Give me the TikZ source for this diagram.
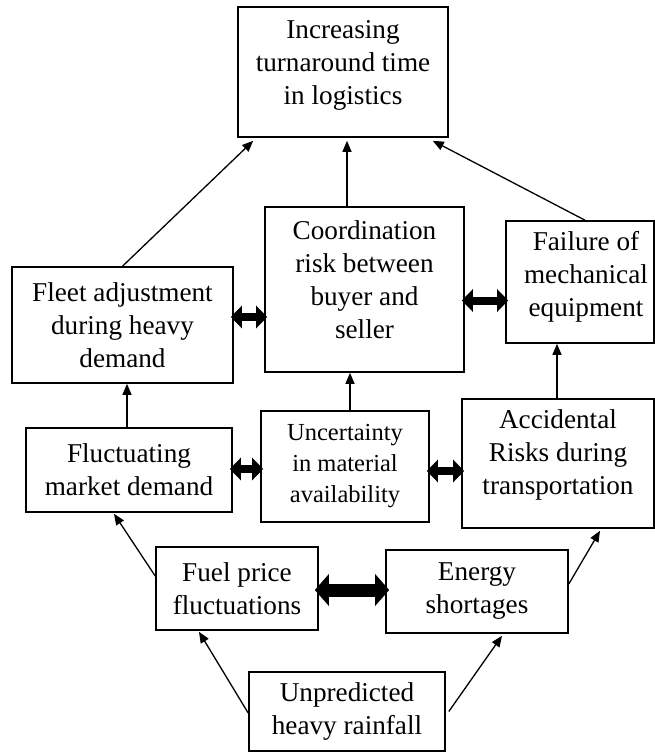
\documentclass[tikz,border=0pt]{standalone}
\usepackage{fontspec}
\setmainfont{Liberation Serif}
\usetikzlibrary{arrows.meta,calc}
\begin{document}
\begin{tikzpicture}[x=1pt,y=-1pt,
  box/.style={draw, line width=1.6pt, inner sep=0pt, align=center,
              font=\fontsize{27.2}{33}\selectfont},
  txt/.style={align=center, inner sep=0pt, font=\fontsize{27.2}{33}\selectfont},
  stxt/.style={align=center, font=\fontsize{24.5}{31}\selectfont},
  arr/.style={line width=1.3pt, -{Triangle[length=11pt,width=9pt]}},
  dbl/.style={line width=8pt, shorten <=-3pt, shorten >=-3pt,
              {Triangle[length=11pt,width=22pt]}-{Triangle[length=11pt,width=22pt]}},
  bigdbl/.style={line width=13pt, shorten <=-4pt, shorten >=-4pt,
              {Triangle[length=14pt,width=31pt]}-{Triangle[length=14pt,width=31pt]}}]
\useasboundingbox[fill=white] (0,0) rectangle (655,753);

% boxes
\node[box, minimum width=210pt, minimum height=130pt] (top) at (343,72) {};
\node[txt] (topT) at (343,65) {Increasing\\turnaround time\\in logistics};

\node[box, minimum width=199pt, minimum height=165pt] (coord) at (364.5,289.5) {};
\node[txt] (coordT) at (364.5,280) {Coordination\\risk between\\buyer and\\seller};

\node[box, minimum width=148pt, minimum height=122pt] (fail) at (580,282) {};
\node[txt] (failT) at (586,277) {Failure of\\mechanical\\equipment};

\node[box, minimum width=221pt, minimum height=116pt] (fleet) at (122.5,325)
  {Fleet adjustment\\during heavy\\demand};

\node[box, minimum width=206pt, minimum height=84pt] (fluct) at (129,470)
  {Fluctuating\\market demand};

\node[box, minimum width=168pt, minimum height=111pt, stxt] (unc) at (345,466.5)
  {Uncertainty\\in material\\availability};

\node[box, minimum width=192pt, minimum height=129pt] (acc) at (558,463.5) {};
\node[txt] (accT) at (558,455) {Accidental\\Risks during\\transportation};

\node[box, minimum width=162pt, minimum height=83pt] (fuel) at (237,588.5)
  {Fuel price\\fluctuations};

\node[box, minimum width=182pt, minimum height=83pt] (energy) at (477,591.5)
  {Energy\\shortages};

\node[box, minimum width=196pt, minimum height=79pt] (rain) at (347,711.5)
  {Unpredicted\\heavy rainfall};

% single arrows
\draw[arr] (fleet.north) -- ($(top.south west)+(16,3)$);
\draw[arr] ($(coord.north)+(-17.5,0)$) -- ($(top.south)+(4,3)$);
\draw[arr] ($(fail.north)+(5,0)$) -- ($(top.south east)+(-16,3)$);
\draw[arr] ($(fluct.north)+(-2,0)$) -- ($(fleet.south)+(4.5,0)$);
\draw[arr] ($(unc.north)+(5,0)$) -- ($(coord.south)+(-14.5,0)$);
\draw[arr] ($(acc.north)+(-1,0)$) -- ($(fail.south)+(-23,0)$);
\draw[arr] ($(fuel.west)+(0,-12.5)$) -- ($(fluct.south)+(-15,1)$);
\draw[arr] ($(energy.east)+(0,-7.5)$) -- ($(acc.south)+(42,2)$);
\draw[arr] ($(rain.west)+(0,1.5)$) -- ($(fuel.south)+(-38,1)$);
\draw[arr] ($(rain.east)+(3,0)$) -- ($(energy.south)+(25,2)$);

% double arrows
\draw[dbl] ($(fleet.east)+(0,-8)$) -- ($(coord.west)+(0,27.5)$);
\draw[dbl] ($(coord.east)+(0,11)$) -- ($(fail.west)+(0,18.5)$);
\draw[dbl] ($(fluct.east)+(0,-1)$) -- ($(unc.west)+(0,2.5)$);
\draw[dbl] ($(unc.east)+(0,4.5)$) -- ($(acc.west)+(0,7.5)$);
\draw[bigdbl] ($(fuel.east)+(0,1.5)$) -- ($(energy.west)+(0,-1.5)$);
\end{tikzpicture}
\end{document}
